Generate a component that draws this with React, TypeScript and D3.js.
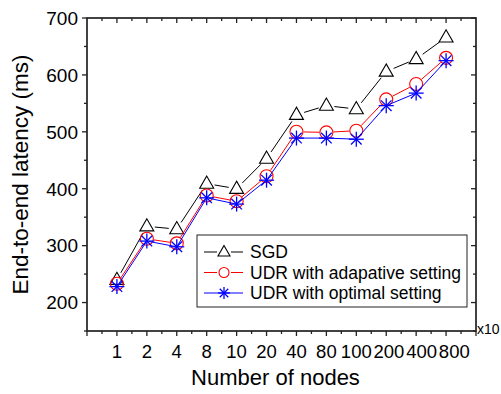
import React from "react";
import * as d3 from "d3";

const categories = ["1", "2", "4", "8", "10", "20", "40", "80", "100", "200", "400", "800"];
const sgd = [240, 334, 329, 409, 400, 453, 530, 546, 540, 606, 628, 666];
const udrAdaptive = [233, 312, 304, 388, 378, 422, 500, 499, 502, 557, 584, 630];
const udrOptimal = [228, 308, 298, 384, 373, 415, 489, 489, 487, 546, 568, 625];
const yTicks = [200, 300, 400, 500, 600, 700];
const seriesNames = ["SGD", "UDR with adapative setting", "UDR with optimal setting"];

const W = 501, H = 394;
const L = 87, R = 476, T = 18, B = 331;
const FONT = "Liberation Sans, Arial, sans-serif";
const XFS = 18.5;

export default function App() {
  const x = d3.scaleLinear().domain([0, categories.length + 1]).range([L, R]);
  const y = d3.scaleLinear().domain([150, 700]).range([B, T]);

  const series = [
    { name: seriesNames[0], values: sgd, color: "#000", marker: "tri", gap: 8 },
    { name: seriesNames[1], values: udrAdaptive, color: "#ff0000", marker: "circ", gap: 7 },
    { name: seriesNames[2], values: udrOptimal, color: "#0000ff", marker: "star", gap: 2 },
  ];

  const marker = (type: string, cx: number, cy: number, s: number, color: string, key?: any) => {
    if (type === "tri") {
      const h = s * 0.87;
      const pts = [[cx, cy - h * 0.62], [cx - s / 2, cy + h * 0.38], [cx + s / 2, cy + h * 0.38]];
      return <polygon key={key} points={pts.map(p => p.join(",")).join(" ")} fill="none" stroke={color} strokeWidth={1.1} />;
    }
    if (type === "circ") {
      return <circle key={key} cx={cx} cy={cy} r={s / 2} fill="none" stroke={color} strokeWidth={1.1} />;
    }
    const r = s / 2;
    const angs = [0, 45, 90, 135];
    return (
      <g key={key} stroke={color} strokeWidth={1.3}>
        {angs.map(a => {
          const rad = (a * Math.PI) / 180;
          return <line key={a} x1={cx - r * Math.cos(rad)} y1={cy - r * Math.sin(rad)} x2={cx + r * Math.cos(rad)} y2={cy + r * Math.sin(rad)} />;
        })}
      </g>
    );
  };

  const segs = (vals: number[], gap: number) => {
    const pts = vals.map((v, i) => [x(i + 1), y(v)]);
    const out: number[][] = [];
    for (let i = 0; i < pts.length - 1; i++) {
      const [x1, y1] = pts[i], [x2, y2] = pts[i + 1];
      const dx = x2 - x1, dy = y2 - y1, len = Math.hypot(dx, dy);
      if (len <= 2 * gap) continue;
      const ux = dx / len, uy = dy / len;
      out.push([x1 + ux * gap, y1 + uy * gap, x2 - ux * gap, y2 - uy * gap]);
    }
    return out;
  };

  // x label positions: centred on tick, pushed right if they would overlap the previous label
  const labelX: number[] = [];
  let prevRight = -Infinity;
  categories.forEach((c, i) => {
    const w = c.length * 0.556 * XFS;
    let cx = x(i + 1);
    if (cx - w / 2 < prevRight + 1.8) cx = prevRight + 1.8 + w / 2;
    labelX.push(cx);
    prevRight = cx + w / 2;
  });

  const xMajor = categories.map((_, i) => i + 1);
  const xMinor = d3.range(0, categories.length + 1).map(i => i + 0.5);
  const yMinor = d3.range(150, 700, 100);

  const axisColor = "#222";

  return (
    <svg width={W} height={H} style={{ position: "absolute", left: 0, top: 0, background: "#fff" }} fontFamily={FONT}>
      <rect x={0} y={0} width={W} height={H} fill="#fff" />
      <rect x={L} y={T} width={R - L} height={B - T} fill="none" stroke={axisColor} strokeWidth={1.7} />
      {[0, ...xMajor, categories.length + 1].map(v => (
        <line key={"bM" + v} x1={x(v)} x2={x(v)} y1={B} y2={B + 5} stroke={axisColor} strokeWidth={1.3} />
      ))}
      {xMinor.map(v => (
        <line key={"bm" + v} x1={x(v)} x2={x(v)} y1={B} y2={B + 3} stroke={axisColor} strokeWidth={1.3} />
      ))}
      {xMajor.map(v => (
        <line key={"tM" + v} x1={x(v)} x2={x(v)} y1={T} y2={T + 5} stroke={axisColor} strokeWidth={1.3} />
      ))}
      {xMinor.map(v => (
        <line key={"tm" + v} x1={x(v)} x2={x(v)} y1={T} y2={T + 3} stroke={axisColor} strokeWidth={1.3} />
      ))}
      {yTicks.map(v => (
        <line key={"lM" + v} x1={L - 5} x2={L} y1={y(v)} y2={y(v)} stroke={axisColor} strokeWidth={1.3} />
      ))}
      {yMinor.map(v => (
        <line key={"lm" + v} x1={L - 3} x2={L} y1={y(v)} y2={y(v)} stroke={axisColor} strokeWidth={1.3} />
      ))}
      {yTicks.map(v => (
        <line key={"rM" + v} x1={R - 5} x2={R} y1={y(v)} y2={y(v)} stroke={axisColor} strokeWidth={1.3} />
      ))}
      {yMinor.map(v => (
        <line key={"rm" + v} x1={R - 3} x2={R} y1={y(v)} y2={y(v)} stroke={axisColor} strokeWidth={1.3} />
      ))}
      {yTicks.map(v => (
        <text key={"yl" + v} x={L - 9} y={y(v)} dy="0.36em" textAnchor="end" fontSize={19} fill="#000">{v}</text>
      ))}
      {categories.map((c, i) => (
        <text key={"xl" + c} x={labelX[i]} y={B + 27} textAnchor="middle" fontSize={XFS} fill="#000">{c}</text>
      ))}
      <text x={R + 1} y={B + 3} fontSize={14} fill="#000">x10</text>
      <text x={(L + R) / 2 - 6} y={385} textAnchor="middle" fontSize={22} fill="#000">Number of nodes</text>
      <text transform={`translate(28,${(T + B) / 2}) rotate(-90)`} textAnchor="middle" fontSize={22.5} fill="#000">End-to-end latency (ms)</text>
      {series.map(s => (
        <g key={s.name}>
          {segs(s.values, s.gap).map((sg, i) => (
            <line key={i} x1={sg[0]} y1={sg[1]} x2={sg[2]} y2={sg[3]} stroke={s.color} strokeWidth={1} />
          ))}
          {s.values.map((v, i) => marker(s.marker, x(i + 1), y(v), s.marker === "tri" ? 14 : s.marker === "circ" ? 13 : 15, s.color, i))}
        </g>
      ))}
      <g>
        <rect x={197} y={235} width={270} height={72} fill="#fff" stroke={axisColor} strokeWidth={1} />
        {series.map((s, i) => {
          const cy = 252 + i * 20.5;
          return (
            <g key={"lg" + i}>
              <line x1={204} x2={217} y1={cy} y2={cy} stroke={s.color} strokeWidth={1} />
              <line x1={231} x2={243} y1={cy} y2={cy} stroke={s.color} strokeWidth={1} />
              {s.marker === "star" && <line x1={217} x2={231} y1={cy} y2={cy} stroke={s.color} strokeWidth={1} />}
              {marker(s.marker, 224, cy, s.marker === "tri" ? 12 : s.marker === "circ" ? 10 : 12, s.color)}
              <text x={250} y={cy} dy="0.36em" fontSize={17.5} fill="#000">{s.name}</text>
            </g>
          );
        })}
      </g>
    </svg>
  );
}
